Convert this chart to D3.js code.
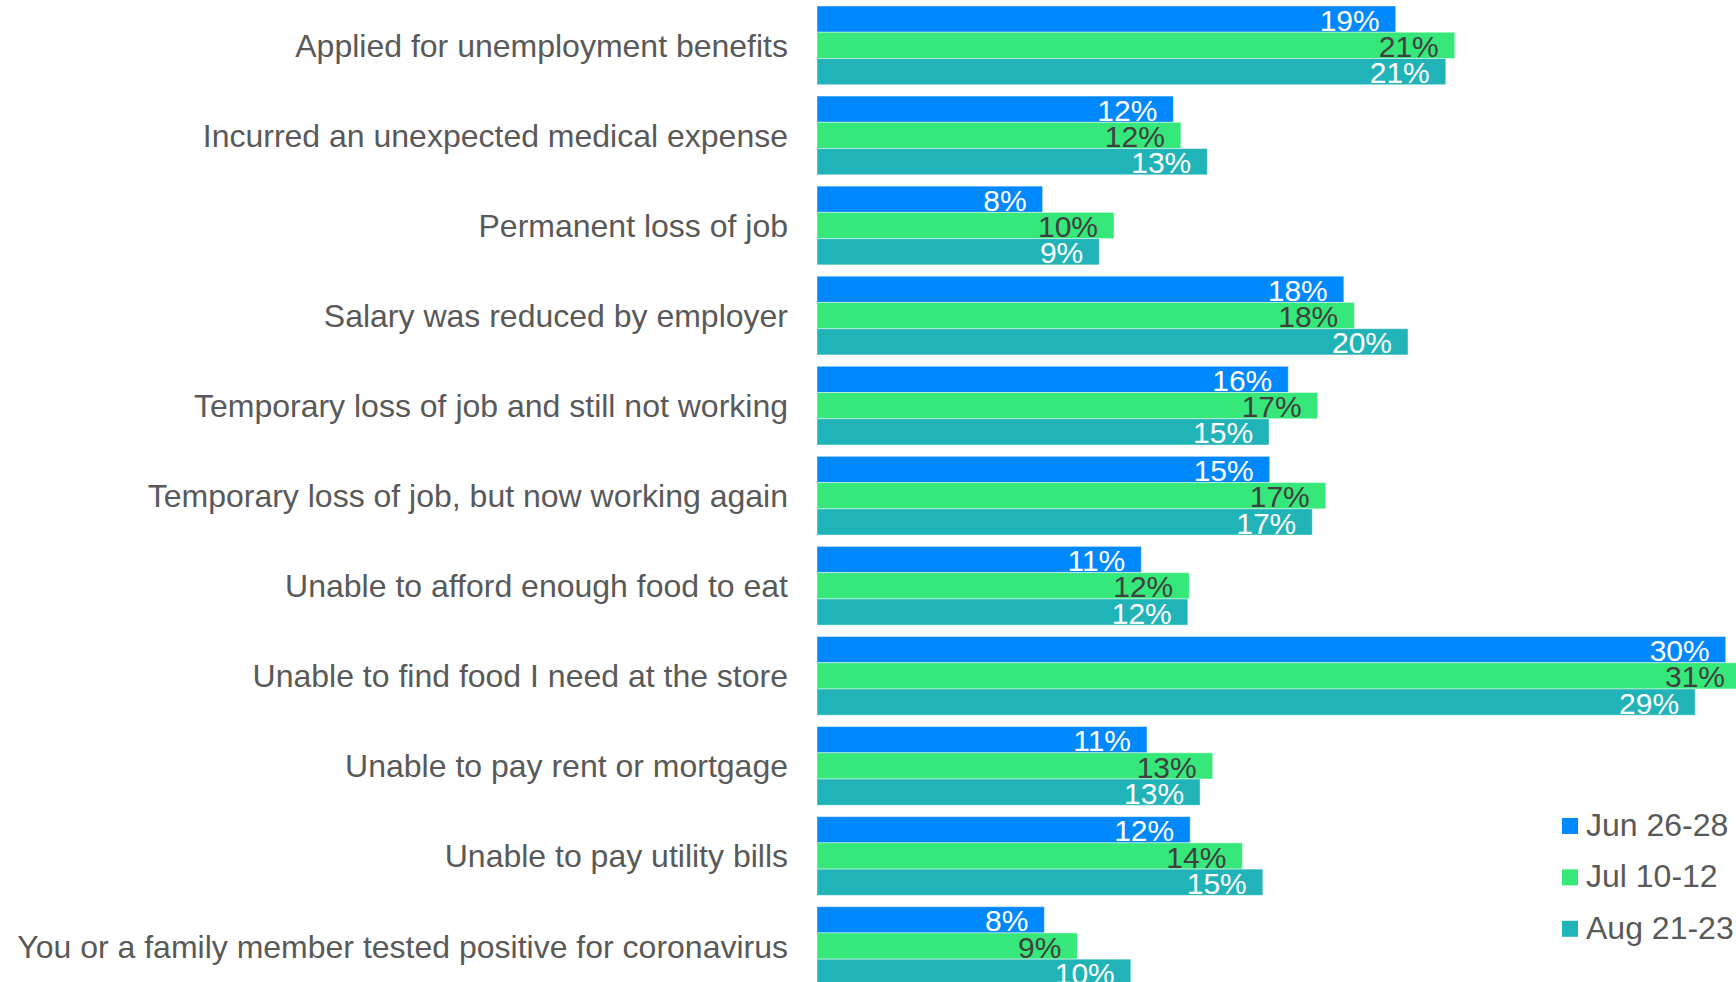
<!DOCTYPE html>
<html>
<head>
<meta charset="utf-8">
<script src="https://cdn.jsdelivr.net/npm/d3@7"></script>
<style>
  html, body { margin: 0; padding: 0; background: #ffffff; overflow: hidden; }
  svg { display: block; font-family: "Liberation Sans", Arial, sans-serif; }
</style>
</head>
<body>
<svg id="chart" width="1736" height="982"></svg>
<script>
const categories = [
  "Applied for unemployment benefits",
  "Incurred an unexpected medical expense",
  "Permanent loss of job",
  "Salary was reduced by employer",
  "Temporary loss of job and still not working",
  "Temporary loss of job, but now working again",
  "Unable to afford enough food to eat",
  "Unable to find food I need at the store",
  "Unable to pay rent or mortgage",
  "Unable to pay utility bills",
  "You or a family member tested positive for coronavirus"
];
const seriesNames = ["Jun 26-28", "Jul 10-12", "Aug 21-23"];
const jun = [19.29, 11.88, 7.52, 17.56, 15.71, 15.09, 10.81, 30.29, 11.0, 12.44, 7.58];
const jul = [21.26, 12.13, 9.90, 17.91, 16.69, 16.96, 12.41, 30.8, 13.19, 14.18, 8.68];
const aug = [20.96, 13.01, 9.41, 19.70, 15.07, 16.51, 12.36, 29.27, 12.77, 14.86, 10.46];
const seriesValues = [jun, jul, aug];
const colors = ["#0088ff", "#36e87a", "#20b4b8"];
const labelColors = ["#ffffff", "#404040", "#ffffff"];

const svg = d3.select("#chart");

const x = d3.scaleLinear().domain([0, 35]).range([817, 817 + 1050]);
const y0 = d3.scaleBand().domain(categories).range([6, 985.4]).paddingInner(0.126).paddingOuter(0);
const y1 = d3.scaleBand().domain(seriesNames).range([0, y0.bandwidth()]).padding(0);

const rows = categories.map((c, i) => ({
  cat: c,
  vals: seriesNames.map((s, j) => ({ s, j, v: seriesValues[j][i] }))
}));

const g = svg.append("g");
const groups = g.selectAll("g.grp").data(rows).join("g")
  .attr("class", "grp")
  .attr("transform", d => `translate(0,${y0(d.cat)})`);

groups.selectAll("rect").data(d => d.vals).join("rect")
  .attr("x", x(0))
  .attr("y", d => y1(d.s))
  .attr("width", d => x(d.v) - x(0))
  .attr("height", y1.bandwidth())
  .attr("fill", d => colors[d.j])
  .attr("stroke", "#ffffff")
  .attr("stroke-opacity", 0.45)
  .attr("stroke-width", 1);

groups.selectAll("text.val").data(d => d.vals).join("text")
  .attr("class", "val")
  .attr("x", d => x(d.v) - 16)
  .attr("y", d => y1(d.s) + y1.bandwidth() - 1.5)
  .attr("text-anchor", "end")
  .attr("font-size", 30)
  .attr("fill", d => labelColors[d.j])
  .text(d => Math.round(d.v) + "%");

// category labels
g.selectAll("text.cat").data(categories).join("text")
  .attr("class", "cat")
  .attr("x", 788)
  .attr("y", d => y0(d) + y0.bandwidth() / 2 + 11.5)
  .attr("text-anchor", "end")
  .attr("font-size", 32)
  .attr("fill", "#595959")
  .text(d => d);

// legend
const legend = svg.append("g").attr("transform", "translate(1562,818)");
const lg = legend.selectAll("g").data(seriesNames).join("g")
  .attr("transform", (d, i) => `translate(0,${i * 51.4})`);
lg.append("rect").attr("width", 16).attr("height", 16).attr("fill", (d, i) => colors[i]);
lg.append("text")
  .attr("x", 24)
  .attr("y", 18)
  .attr("font-size", 32)
  .attr("fill", "#595959")
  .text(d => d);
</script>
</body>
</html>
